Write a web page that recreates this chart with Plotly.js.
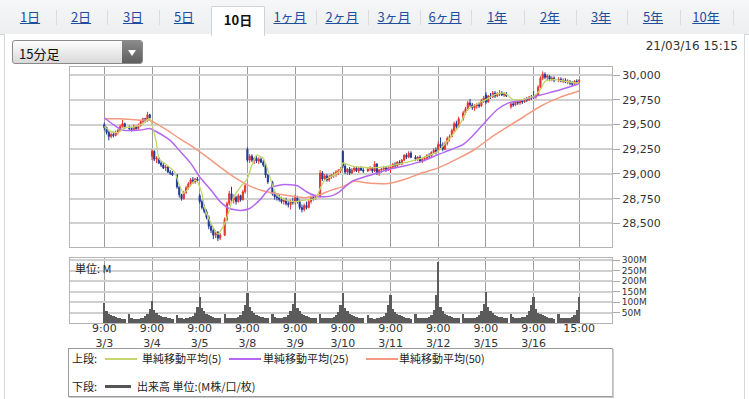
<!DOCTYPE html>
<html>
<head>
<meta charset="utf-8">
<script src="https://cdn.plot.ly/plotly-3.0.1.min.js"></script>
<style>
html,body{margin:0;padding:0;}
body{width:749px;height:399px;position:relative;overflow:hidden;background:#fff;font-family:"DejaVu Sans","Noto Sans CJK JP",sans-serif;}
#strip{position:absolute;left:0;top:0;width:749px;height:34px;background:linear-gradient(#f6f7f8,#eceef0);border-bottom:1px solid #cfd3d8;}
#panel{position:absolute;left:4px;top:34px;width:739px;height:370px;background:#fff;border-left:1px solid #d5d8dc;border-right:1px solid #d5d8dc;}
.tab{position:absolute;top:9px;font-size:13px;color:#1f4e9e;text-decoration:underline;font-family:"Noto Sans CJK JP",sans-serif;line-height:16px;transform:translateX(-50%);white-space:nowrap;}
.sep{position:absolute;top:10px;width:1px;height:15px;background:#d8dbe0;}
#active{position:absolute;left:211px;top:6px;width:52px;height:29px;background:#fff;border:1px solid #cfd3d8;border-bottom:none;border-radius:2px 2px 0 0;}
#active span{position:absolute;left:0;right:0;top:3px;text-align:center;font-size:13px;font-weight:bold;color:#111;font-family:"Noto Sans CJK JP",sans-serif;}
#dd{position:absolute;left:12px;top:40px;width:131px;height:24px;border:1px solid #8a8a8a;border-radius:3px;background:linear-gradient(#fdfdfd,#d9d9d9);box-sizing:border-box;}
#dd span{position:absolute;left:6px;top:3px;font-size:13px;color:#111;font-family:"Noto Sans CJK JP",sans-serif;}
#ddbtn{position:absolute;right:0;top:0;width:20px;height:22px;background:linear-gradient(#8a8a8a,#5e5e5e);border-radius:0 2px 2px 0;}
#ddbtn:after{content:"";position:absolute;left:6px;top:9px;border-left:4px solid transparent;border-right:4px solid transparent;border-top:6px solid #fff;}
#stamp{position:absolute;right:11px;top:39px;font-size:12px;color:#333;font-family:"DejaVu Sans",sans-serif;}
#chart{position:absolute;left:0;top:0;width:749px;height:399px;}
#legend{position:absolute;left:68px;top:348px;width:543px;height:47px;border:1px solid #9a9a9a;border-right-color:#bbb;box-shadow:1px 1px 0 #ccc;background:#fff;font-family:"Noto Sans CJK JP",sans-serif;font-size:11px;color:#222;}
.lg{position:absolute;white-space:nowrap;line-height:13px;}
.ln{position:absolute;height:2px;}
</style>
</head>
<body>
<div id="strip"></div>
<div id="panel"></div>
<div id="tabs"></div>
<div id="dd"><span>15分足</span><div id="ddbtn"></div></div>
<div id="stamp">21/03/16 15:15</div>
<div id="chart"></div>
<div id="legend"></div>
<script>
// ---------- DATA ----------
const tabLabels = ['1日','2日','3日','5日','10日','1ヶ月','2ヶ月','3ヶ月','6ヶ月','1年','2年','3年','5年','10年'];
const activeTab = '10日';
const dates = ['3/3','3/4','3/5','3/8','3/9','3/10','3/11','3/12','3/15','3/16'];
const openTime = '9:00';
const closeTime = '15:00';
// 15-minute bars, 20 per day (10 morning + 10 afternoon)
const open = [
29500,29470,29420,29380,29400,29390,29420,29440,29480,29510, 29470,29460,29450,29480,29460,29490,29530,29560,29540,29600,
29180,29230,29150,29160,29110,29090,29060,29070,29020,29010, 28990,28870,28790,28750,28810,28860,28900,28940,28920,28950,
28780,28720,28660,28620,28560,28470,28430,28380,28410,28350, 28380,28540,28700,28800,28740,28760,28720,28780,28740,28820,
29250,29140,29180,29140,29160,29130,29150,29120,29090,28990, 28920,28800,28770,28760,28740,28720,28740,28700,28690,28720,
28720,28760,28720,28660,28640,28680,28660,28720,28760,28750, 28770,29010,28950,28980,28940,28970,28990,29000,29020,29030,
29230,29080,29020,29050,29010,29040,29060,29030,29060,29040, 29030,29050,29060,29030,29100,29010,29040,29050,29060,29040,
29060,29070,29100,29080,29120,29100,29140,29190,29170,29210, 29170,29150,29170,29130,29150,29160,29190,29180,29220,29240,
29240,29300,29280,29250,29310,29360,29380,29440,29510,29480, 29560,29620,29660,29720,29700,29670,29690,29700,29690,29740,
29800,29730,29790,29780,29820,29790,29810,29820,29800,29810, 29680,29710,29700,29730,29720,29740,29730,29760,29750,29780,
29790,29780,29800,29880,29970,30010,29980,29990,29960,29970, 29950,29960,29940,29950,29930,29940,29920,29910,29940,29930
];
const high = [
29520,29480,29440,29420,29430,29440,29460,29500,29550,29520, 29490,29480,29500,29490,29510,29540,29570,29570,29630,29610,
29250,29240,29180,29170,29130,29110,29090,29080,29040,29030, 29000,28880,28800,28830,28880,28920,28960,28970,28960,28970,
28800,28740,28690,28640,28580,28500,28450,28430,28420,28400, 28560,28720,28830,28870,28790,28780,28800,28790,28840,28900,
29270,29200,29200,29170,29180,29170,29170,29140,29110,29000, 28930,28820,28800,28790,28770,28760,28760,28730,28740,28760,
28790,28780,28740,28690,28700,28720,28740,28780,28790,28790, 29040,29030,29000,29000,28990,29000,29020,29040,29050,29070,
29240,29110,29060,29070,29060,29070,29080,29070,29080,29060, 29070,29080,29070,29130,29110,29050,29060,29080,29070,29080,
29090,29110,29120,29130,29140,29150,29200,29210,29230,29230, 29190,29180,29190,29160,29180,29200,29210,29230,29260,29270,
29330,29370,29320,29330,29380,29400,29460,29530,29540,29580, 29640,29680,29740,29760,29720,29710,29720,29730,29760,29790,
29830,29800,29820,29840,29840,29830,29850,29840,29830,29830, 29730,29730,29740,29750,29750,29760,29770,29780,29790,29800,
29840,29810,29900,29990,30040,30030,30010,30000,29990,29990, 29980,29980,29970,29970,29960,29950,29940,29950,29960,29960
];
const low = [
29440,29400,29340,29360,29370,29380,29400,29430,29470,29460, 29440,29430,29440,29440,29450,29480,29510,29520,29530,29550,
29140,29130,29110,29100,29070,29050,29030,29010,28990,28980, 28850,28760,28730,28740,28800,28840,28880,28900,28900,28910,
28700,28640,28600,28540,28440,28400,28340,28350,28320,28330, 28370,28520,28680,28720,28700,28690,28710,28720,28730,28800,
29120,29110,29120,29100,29110,29100,29110,29070,28960,28900, 28780,28740,28730,28720,28700,28690,28680,28660,28640,28690,
28690,28700,28640,28610,28620,28640,28650,28700,28730,28740, 28760,28930,28930,28920,28920,28950,28960,28970,28990,29010,
29060,29000,28990,28990,29000,29020,29020,29010,29030,29010, 29020,29030,29010,29020,28990,28980,29010,29030,29020,29030,
29010,29050,29060,29070,29090,29090,29130,29150,29160,29160, 29130,29130,29120,29110,29130,29150,29160,29170,29200,29200,
29220,29260,29230,29240,29290,29330,29370,29420,29460,29470, 29540,29600,29640,29680,29650,29640,29660,29670,29680,29720,
29710,29720,29760,29770,29770,29780,29790,29790,29780,29780, 29660,29680,29690,29700,29700,29710,29720,29730,29740,29750,
29760,29760,29790,29870,29950,29960,29950,29940,29940,29930, 29930,29930,29920,29920,29910,29900,29890,29900,29910,29920
];
const close = [
29470,29420,29380,29400,29390,29420,29440,29480,29510,29470, 29460,29450,29480,29460,29490,29530,29560,29540,29600,29570,
29230,29150,29160,29110,29090,29060,29070,29020,29010,28990, 28870,28790,28750,28810,28860,28900,28940,28920,28950,28930,
28720,28660,28620,28560,28470,28430,28380,28410,28350,28380, 28540,28700,28800,28740,28760,28720,28780,28740,28820,28880,
29140,29180,29140,29160,29130,29150,29120,29090,28990,28920, 28800,28770,28760,28740,28720,28740,28700,28690,28720,28710,
28760,28720,28660,28640,28680,28660,28720,28760,28750,28770, 29010,28950,28980,28940,28970,28990,29000,29020,29030,29050,
29080,29020,29050,29010,29040,29060,29030,29060,29040,29030, 29050,29060,29030,29100,29010,29040,29050,29060,29040,29060,
29070,29100,29080,29120,29100,29140,29190,29170,29210,29170, 29150,29170,29130,29150,29160,29190,29180,29220,29240,29230,
29300,29280,29250,29310,29360,29380,29440,29510,29480,29560, 29620,29660,29720,29700,29670,29690,29700,29690,29740,29770,
29730,29790,29780,29820,29790,29810,29820,29800,29810,29790, 29710,29700,29730,29720,29740,29730,29760,29750,29780,29770,
29780,29800,29880,29970,30010,29980,29990,29960,29970,29950, 29960,29940,29950,29930,29940,29920,29910,29940,29930,29950
];
// volume, millions
const volume = [
94,55,45,38,33,30,26,23,21,19, 42,22,20,19,20,22,26,32,45,68,
105,60,48,40,35,30,27,24,22,20, 40,24,22,21,22,24,28,35,50,78,
125,70,55,45,38,33,29,26,24,22, 45,26,24,23,24,26,30,38,55,88,
144,75,58,46,40,35,30,27,25,23, 45,27,25,24,25,27,30,38,55,92,
141,72,55,45,38,33,29,26,24,22, 42,25,23,22,23,25,29,36,52,88,
141,72,55,45,38,33,29,26,24,22, 40,24,22,21,22,24,28,34,50,85,
133,68,52,43,36,31,28,25,23,21, 42,25,23,22,23,25,29,38,60,133,
292,75,55,45,38,33,29,26,24,22, 45,26,24,23,24,26,30,38,55,90,
149,75,58,46,40,35,30,27,25,23, 45,27,25,24,25,27,30,38,55,88,
122,65,50,42,36,31,28,25,23,21, 42,25,23,22,23,25,29,36,62,122
];
// moving averages: time slot (21 per day, slot 10 = lunch break) and value
const sma5At  = [0,3,6,9,13,17,20,21,22,23,24,27,31,33,35,40,41,43,44,47,50,53,57,60,63,65,67,70,72,74,76,80,84,88,93,95,97,101,104,105,109,118,125,132,140,147,151,156,160,165,168,172,176,180,184,189,192,194,198,203,208,209];
const sma5Val = [29480,29430,29420,29470,29475,29510,29560,29500,29410,29308,29157,29100,29022,28887,28803,28938,28921,28803,28668,28499,28390,28499,28769,28870,28954,29089,29190,29157,29039,28887,28786,28735,28718,28735,28752,28853,28938,28988,29039,29113,29079,29062,29079,29113,29163,29231,29332,29480,29653,29720,29754,29804,29821,29754,29754,29787,29855,29939,29956,29939,29922,29935];
const sma25At  = [0,4,8,16,20,24,29,33,38,42,47,51,55,60,64,69,73,79,85,89,94,100,103,106,109,118,125,132,140,147,153,158,162,168,173,178,185,192,200,208,209];
const sma25Val = [29570,29500,29445,29445,29460,29415,29340,29240,29110,28970,28835,28720,28650,28630,28650,28750,28860,28894,28880,28820,28770,28778,28810,28870,28925,28995,29045,29080,29130,29197,29250,29300,29383,29534,29653,29720,29754,29800,29848,29906,29915];
const sma50At  = [0,7,16,20,24,29,33,39,45,51,57,63,69,76,83,88,94,100,105,110,117,125,132,140,147,156,163,170,178,185,192,200,209];
const sma50Val = [29560,29560,29545,29545,29495,29425,29360,29275,29175,29070,28970,28890,28835,28800,28775,28760,28786,28836,28872,28925,28905,28904,28944,29012,29062,29160,29248,29366,29484,29585,29686,29771,29840];
const priceTicks = [28500,28750,29000,29250,29500,29750,30000];
const volTicks = [50,100,150,200,250,300];
const legendTop = ['単純移動平均(5)','単純移動平均(25)','単純移動平均(50)'];
const legendBottom = '出来高 単位:(M株/口/枚)';

// ---------- LAYOUT HELPERS ----------
const slotsPerDay = 21, barsPerSession = 10;
const xs = open.map((_, i) => {
  const d = Math.floor(i / 20), b = i % 20;
  return d * slotsPerDay + (b < barsPerSession ? b : b + 1);
});
const lastSlot = xs[xs.length - 1];
const tickvals = dates.map((_, d) => d * slotsPerDay).concat([lastSlot]);
const ticktext = dates.map(d => openTime + '<br>' + d).concat([closeTime + '<br> ']);

// tabs (HTML)
const tabX = [30,81,133,184,237,290,342,394,445,497,550,601,653,706];
const tabsDiv = document.getElementById('tabs');
const actDiv = document.createElement('div'); actDiv.id = 'active';
tabsDiv.appendChild(actDiv);
tabLabels.forEach((t, i) => {
  if (t === activeTab) {
    actDiv.innerHTML = '<span>' + t + '</span>';
  } else {
    const s = document.createElement('div'); s.className = 'tab';
    s.style.left = tabX[i] + 'px'; s.textContent = t; tabsDiv.appendChild(s);
  }
  if (i < tabLabels.length - 1 && t !== activeTab && tabLabels[i + 1] !== activeTab) {
    const sp = document.createElement('div'); sp.className = 'sep';
    sp.style.left = Math.round((tabX[i] + tabX[i + 1]) / 2) + 'px'; tabsDiv.appendChild(sp);
  }
});
const lastSep = document.createElement('div'); lastSep.className = 'sep'; lastSep.style.left = '733px'; tabsDiv.appendChild(lastSep);

// legend (HTML)
const lg = document.getElementById('legend');
const maColors = ['#c3d66b','#b467f0','#f39a80'];
let html = '<div class="lg" style="left:3px;top:3px">上段:</div>';
const lineX = [36,160,297], textX = [73,194,330];
legendTop.forEach((t, i) => {
  html += '<div class="ln" style="left:' + lineX[i] + 'px;top:9px;width:32px;background:' + maColors[i] + '"></div>';
  html += '<div class="lg" style="left:' + textX[i] + 'px;top:3px">' + t + '</div>';
});
html += '<div class="lg" style="left:3px;top:31px">下段:</div>';
html += '<div class="ln" style="left:36px;top:36px;width:26px;height:3px;background:#555"></div>';
html += '<div class="lg" style="left:68px;top:31px">' + legendBottom + '</div>';
lg.innerHTML = html;

// ---------- PLOT ----------
const traces = [
  {type:'candlestick', x:xs, open:open, high:high, low:low, close:close, xaxis:'x', yaxis:'y',
   increasing:{line:{color:'#e4342e', width:1}, fillcolor:'#e4342e'},
   decreasing:{line:{color:'#1e3a94', width:1}, fillcolor:'#1e3a94'},
   whiskerwidth:0, hoverinfo:'skip'},
  {type:'scatter', mode:'lines', x:sma50At, y:sma50Val, line:{color:maColors[2], width:1.5, shape:'spline', smoothing:0.6}, xaxis:'x', yaxis:'y', hoverinfo:'skip'},
  {type:'scatter', mode:'lines', x:sma25At, y:sma25Val, line:{color:maColors[1], width:1.5, shape:'spline', smoothing:0.6}, xaxis:'x', yaxis:'y', hoverinfo:'skip'},
  {type:'scatter', mode:'lines', x:sma5At, y:sma5Val, line:{color:maColors[0], width:1.3, shape:'spline', smoothing:0.5}, xaxis:'x', yaxis:'y', hoverinfo:'skip'},
  {type:'bar', x:xs, y:volume, xaxis:'x2', yaxis:'y2', marker:{color:'#5b5b5b', line:{width:0}}, width:1, hoverinfo:'skip'}
];
const xr = [-15.1, 223.5];
const tf = {family:'DejaVu Sans, sans-serif', size:11, color:'#333'};
const vf = {family:'DejaVu Sans, sans-serif', size:9, color:'#333'};
const layout = {
  width:749, height:399, margin:{l:70, r:137, t:67, b:76},
  paper_bgcolor:'rgba(0,0,0,0)', plot_bgcolor:'#fff', showlegend:false, bargap:0,
  font:tf,
  xaxis:{range:xr, anchor:'y', tickvals:tickvals, ticktext:ticktext, showticklabels:false, ticks:'',
         showgrid:true, gridcolor:'#9c9c9c', gridwidth:1, zeroline:false, showline:true, mirror:true,
         linecolor:'#b5b5b5', linewidth:1, rangeslider:{visible:false}, fixedrange:true},
  yaxis:{domain:[0.298,1], range:[28263,30084], side:'right', tickvals:priceTicks, tickformat:',d',
         ticks:'outside', ticklen:7, tickcolor:'#aaa', showgrid:true, gridcolor:'#d0d0d0', gridwidth:2,
         zeroline:false, showline:true, mirror:true, linecolor:'#b5b5b5', tickfont:tf, fixedrange:true},
  xaxis2:{range:xr, anchor:'y2', tickvals:tickvals, ticktext:ticktext, ticks:'', tickfont:tf, ticklabelstandoff:-5,
          showgrid:true, gridcolor:'#9c9c9c', gridwidth:1, zeroline:false, showline:true, mirror:true,
          linecolor:'#b5b5b5', fixedrange:true},
  yaxis2:{domain:[0,0.254], range:[0,310], side:'right', tickvals:volTicks, ticktext:volTicks.map(v => v + 'M'),
          ticks:'outside', ticklen:7, tickcolor:'#aaa', showgrid:true, gridcolor:'#d0d0d0', gridwidth:2,
          zeroline:false, showline:true, mirror:true, linecolor:'#b5b5b5', tickfont:vf, fixedrange:true},
  annotations:[{text:'単位: M', xref:'paper', yref:'paper', x:0.006, y:0.254, xanchor:'left', yanchor:'top',
                showarrow:false, font:{family:'Noto Sans CJK JP, sans-serif', size:11, color:'#222'}}]
};
Plotly.newPlot('chart', traces, layout, {staticPlot:true, displayModeBar:false});
</script>
</body>
</html>
